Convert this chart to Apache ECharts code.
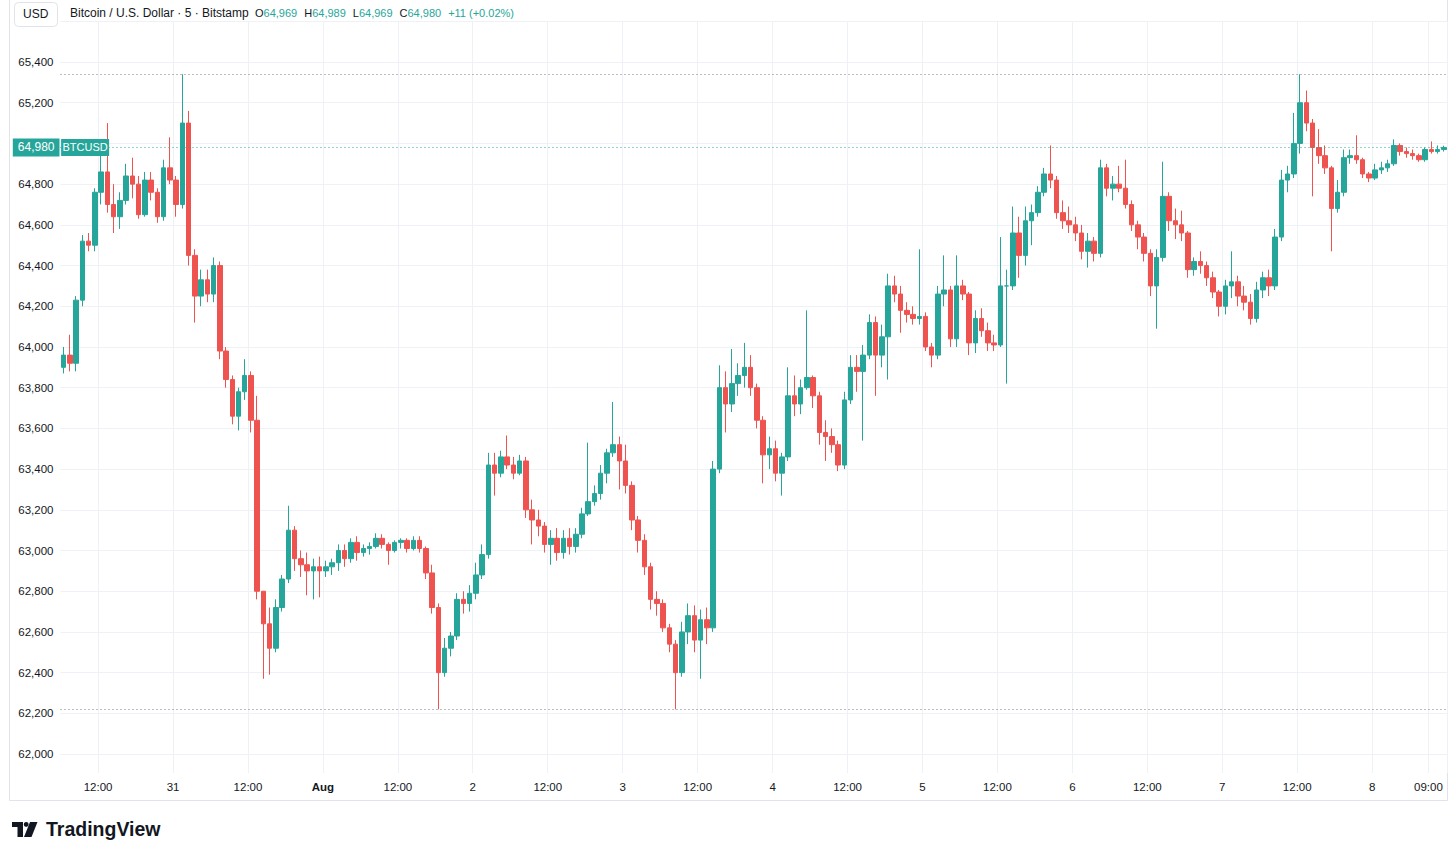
<!DOCTYPE html>
<html>
<head>
<meta charset="utf-8">
<title>BTCUSD · Bitstamp</title>
<script src="https://cdn.jsdelivr.net/npm/echarts@6/dist/echarts.min.js"></script>
<style>
  html, body { margin: 0; padding: 0; background: #fff; }
  #chart { width: 1456px; height: 859px; }
</style>
</head>
<body>
<div id="chart"></div>
<script>
// hourly candles, Jul 30 06:00 -> Aug 8 11:00 (one row per day)
const opens = [
  63900,63960,63920,64230,64520,64500,64760,64860,64700,64640,64720,64840,64800,64650,64820,64760,64640,64880,
  64820,64700,65100,64450,64250,64330,64260,64400,63980,63840,63660,63780,63860,63640,62800,62640,62520,62720,62860,63100,62960,62930,62900,62920,
  62900,62920,62940,63000,62960,63040,62990,63010,63020,63060,63030,63000,63040,63050,63010,63050,63010,62890,62720,62400,62520,62580,62760,62740,
  62790,62880,62980,63420,63380,63460,63420,63380,63440,63200,63150,63120,63030,63060,62990,63060,63020,63080,63180,63240,63280,63380,63480,63520,
  63440,63320,63150,63050,62920,62760,62740,62620,62540,62400,62600,62680,62560,62660,62620,63400,63800,63720,63820,63860,63900,63800,63640,63470,
  63500,63380,63460,63760,63720,63800,63850,63760,63580,63560,63520,63420,63740,63900,63880,63960,64120,63960,64050,64300,64260,64180,64160,64140,
  64150,64000,63960,64260,64280,64040,64300,64260,64020,64140,64080,64020,64010,64300,64300,64560,64450,64620,64660,64760,64850,64820,64660,64620,
  64600,64560,64470,64520,64460,64880,64780,64800,64780,64700,64600,64540,64460,64300,64440,64740,64620,64600,64560,64380,64420,64400,64340,64270,
  64200,64300,64320,64250,64220,64140,64280,64340,64300,64540,64820,64850,65000,65200,65100,64980,64940,64880,64680,64760,64930,64940,64920,64850,
  64830,64870,64880,64900,64990,64960,64950,64940,64920,64970,64960,64970
];
const highs = [
  64000,64060,64250,64550,64560,64780,64940,65100,64800,64760,64900,64930,64840,64860,64860,64780,64920,65030,
  64840,65340,65160,64480,64380,64380,64440,64420,64000,63860,63800,63940,63880,63760,62800,62720,62760,62880,63220,63120,63000,62990,62960,62970,
  62950,62960,63030,63030,63060,63070,63030,63040,63085,63080,63040,63050,63060,63060,63070,63070,63020,62930,62740,62570,62600,62790,62800,62830,
  62940,63030,63480,63480,63490,63565,63460,63470,63460,63250,63200,63140,63100,63110,63100,63110,63110,63210,63530,63320,63420,63500,63730,63560,
  63520,63340,63170,63080,62940,62800,62760,62640,62560,62650,62740,62730,62710,62720,63440,63910,63880,63990,63920,64020,63960,63820,63660,63560,
  63540,63480,63900,63860,63840,64180,63860,63780,63640,63600,63540,63780,63960,63960,64010,64160,64150,64110,64360,64350,64300,64220,64200,64480,
  64170,64020,64300,64450,64300,64450,64330,64270,64180,64190,64120,64060,64540,64380,64690,64640,64690,64700,64790,64880,64990,64840,64720,64690,
  64640,64600,64560,64540,64920,64900,64840,64890,64920,64720,64620,64560,64480,64480,64910,64760,64680,64670,64570,64440,64470,64420,64370,64280,
  64330,64470,64350,64300,64260,64320,64370,64380,64580,64870,64890,65150,65340,65260,65120,65070,64990,64890,64820,64970,64970,65040,64930,64860,
  64900,64910,64920,65020,65000,64980,64970,64950,64980,65010,64990,64989
];
const lows = [
  63870,63880,63880,64200,64470,64470,64700,64660,64560,64580,64700,64730,64630,64640,64720,64610,64620,64800,
  64640,64680,64400,64120,64200,64220,64220,63940,63800,63620,63590,63740,63580,62760,62370,62390,62500,62700,62840,62900,62870,62780,62760,62770,
  62870,62880,62900,62920,62940,62950,62970,62980,63010,63010,62930,62990,63010,62990,63000,62990,62860,62690,62220,62380,62480,62560,62690,62700,
  62760,62860,62960,63270,63360,63400,63350,63370,63160,63030,63070,62990,62930,62950,62960,62980,62990,63060,63170,63220,63250,63330,63460,63300,
  63280,63100,62990,62880,62710,62680,62600,62500,62220,62380,62540,62500,62370,62540,62600,63380,63580,63680,63760,63800,63760,63600,63330,63400,
  63340,63270,63440,63660,63670,63790,63700,63520,63440,63480,63390,63400,63720,63780,63540,63940,63760,63900,63840,64220,64070,64120,64110,64110,
  63980,63900,63940,64200,64000,64000,64230,63960,63970,64050,63980,63980,64000,63820,64280,64340,64400,64500,64640,64740,64780,64630,64580,64560,
  64520,64430,64390,64420,64440,64740,64720,64760,64680,64570,64480,64420,64250,64090,64420,64570,64530,64520,64340,64350,64360,64300,64240,64150,
  64160,64240,64200,64180,64110,64120,64240,64250,64280,64520,64760,64830,64950,65060,64740,64900,64850,64470,64660,64740,64900,64900,64830,64810,
  64820,64850,64860,64890,64940,64930,64920,64910,64910,64950,64950,64960
];
const closes = [
  63960,63920,64230,64520,64500,64760,64860,64700,64640,64720,64840,64800,64650,64820,64760,64640,64880,64820,
  64700,65100,64450,64250,64330,64260,64400,63980,63840,63660,63780,63860,63640,62800,62640,62520,62720,62860,63100,62960,62930,62900,62920,62900,
  62920,62940,63000,62960,63040,62990,63010,63020,63060,63030,63000,63040,63050,63010,63050,63010,62890,62720,62400,62520,62580,62760,62740,62790,
  62880,62980,63420,63380,63460,63420,63380,63440,63200,63150,63120,63030,63060,62990,63060,63020,63080,63180,63240,63280,63380,63480,63520,63440,
  63320,63150,63050,62920,62760,62740,62620,62540,62400,62600,62680,62560,62660,62620,63400,63800,63720,63820,63860,63900,63800,63640,63470,63500,
  63380,63460,63760,63720,63800,63850,63760,63580,63560,63520,63420,63740,63900,63880,63960,64120,63960,64050,64300,64260,64180,64160,64140,64150,
  64000,63960,64260,64280,64040,64300,64260,64020,64140,64080,64020,64010,64300,64300,64560,64450,64620,64660,64760,64850,64820,64660,64620,64600,
  64560,64470,64520,64460,64880,64780,64800,64780,64700,64600,64540,64460,64300,64440,64740,64620,64600,64560,64380,64420,64400,64340,64270,64200,
  64300,64320,64250,64220,64140,64280,64340,64300,64540,64820,64850,65000,65200,65100,64980,64940,64880,64680,64760,64930,64940,64920,64850,64830,
  64870,64880,64900,64990,64960,64950,64940,64920,64970,64960,64970,64980
];

// header quote (last 5 min bar)
const headerOHLC = ['64,969', '64,989', '64,969', '64,980'];
const headerChange = '+11 (+0.02%)';

const days = ['07-30', '07-31', '08-01', '08-02', '08-03', '08-04', '08-05', '08-06', '08-07', '08-08'];
const firstHour = 6;

const tickLabels = [
  ['07-30 12:00', '12:00'], ['07-31 00:00', '31'], ['07-31 12:00', '12:00'],
  ['08-01 00:00', 'Aug'], ['08-01 12:00', '12:00'], ['08-02 00:00', '2'], ['08-02 12:00', '12:00'],
  ['08-03 00:00', '3'], ['08-03 12:00', '12:00'], ['08-04 00:00', '4'], ['08-04 12:00', '12:00'],
  ['08-05 00:00', '5'], ['08-05 12:00', '12:00'], ['08-06 00:00', '6'], ['08-06 12:00', '12:00'],
  ['08-07 00:00', '7'], ['08-07 12:00', '12:00'], ['08-08 00:00', '8'], ['08-08 09:00', '09:00']
];
const gridPrices = [62000, 62200, 62400, 62600, 62800, 63000, 63200, 63400, 63600, 63800,
  64000, 64200, 64400, 64600, 64800, 65000, 65200, 65400, 65600];
const labelPrices = gridPrices.slice(0, -1);

const UP = '#26a69a';
const DOWN = '#ef5350';
const TEXT = '#131722';
const GRID = '#eef1f6';
const FONT = 'Liberation Sans, Arial, sans-serif';

const times = [];
for (let i = 0; i < opens.length; i++) {
  const h = firstHour + i;
  const hh = String(h % 24).padStart(2, '0');
  times.push(days[Math.floor(h / 24)] + ' ' + hh + ':00');
}
const candles = opens.map((o, i) => [o, closes[i], lows[i], highs[i]]);
const tickMap = new Map(tickLabels);

const rangeHigh = Math.max(...highs);
const rangeLow = Math.min(...lows);
const lastPrice = closes[closes.length - 1];

const chart = echarts.init(document.getElementById('chart'), null, { renderer: 'svg' });

chart.setOption({
  animation: false,
  backgroundColor: '#fff',
  textStyle: { fontFamily: FONT },
  title: [
    {
      text: 'USD', left: 14, top: 2, padding: [6, 9, 7, 9],
      borderColor: '#e0e3eb', borderWidth: 1, borderRadius: 4,
      textStyle: { fontSize: 12, fontWeight: 'normal', color: TEXT, fontFamily: FONT }
    },
    {
      text: 'Bitcoin / U.S. Dollar · 5 · Bitstamp', left: 70, top: 7, padding: 0,
      textStyle: { fontSize: 12, fontWeight: 'normal', color: TEXT, fontFamily: FONT }
    },
    {
      text: '{k|O}{v|' + headerOHLC[0] + '}{s| }{k|H}{v|' + headerOHLC[1] + '}{s| }{k|L}{v|' +
        headerOHLC[2] + '}{s| }{k|C}{v|' + headerOHLC[3] + '}{s| }{v|' + headerChange + '}',
      left: 255, top: 7, padding: 0,
      textStyle: {
        fontWeight: 'normal', fontSize: 11,
        rich: {
          k: { fontSize: 11, fontWeight: 'normal', color: TEXT, fontFamily: FONT },
          v: { fontSize: 11, fontWeight: 'normal', color: UP, fontFamily: FONT },
          s: { fontSize: 11, width: 7 }
        }
      }
    },
    {
      text: 'TradingView', left: 46, top: 819, padding: 0,
      textStyle: { fontSize: 19.5, fontWeight: 'bold', color: TEXT, fontFamily: FONT }
    }
  ],
  graphic: [
    {
      type: 'rect', silent: true, z: -1,
      shape: { x: 9.5, y: -0.5, width: 1438, height: 801 },
      style: { fill: 'none', stroke: '#e0e3eb', lineWidth: 1 }
    },
    {
      type: 'group', silent: true,
      children: [
        { type: 'polygon', shape: { points: [[12, 822], [23, 822], [23, 837], [17.5, 837], [17.5, 827], [12, 827]] }, style: { fill: TEXT } },
        { type: 'circle', shape: { cx: 26.2, cy: 824.4, r: 2.4 }, style: { fill: TEXT } },
        { type: 'polygon', shape: { points: [[30, 822], [37.5, 822], [31.5, 837], [24, 837]] }, style: { fill: TEXT } }
      ]
    }
  ],
  grid: { left: 60.5, right: 9, top: 21.3, bottom: 86 },
  xAxis: {
    type: 'category',
    data: times,
    boundaryGap: true,
    axisLine: { show: false },
    axisTick: { show: false },
    axisLabel: {
      interval: (i, v) => tickMap.has(v),
      formatter: v => tickMap.get(v) === 'Aug' ? '{b|Aug}' : tickMap.get(v),
      fontSize: 11.5, color: TEXT, margin: 8, padding: [0, 6, 0, 0],
      rich: { b: { fontSize: 11.5, fontWeight: 'bold', color: TEXT } }
    },
    splitLine: {
      show: true,
      interval: (i, v) => tickMap.has(v),
      lineStyle: { color: GRID, width: 1 }
    }
  },
  yAxis: {
    type: 'value',
    position: 'left',
    min: 61907,
    max: 65600,
    axisLine: { show: false },
    axisTick: { show: false, customValues: gridPrices },
    axisLabel: {
      customValues: labelPrices,
      formatter: v => v.toLocaleString('en-US'),
      fontSize: 11.5, color: TEXT, margin: 7
    },
    splitLine: { show: true, lineStyle: { color: GRID, width: 1 } }
  },
  series: [
    {
      type: 'candlestick',
      name: 'BTCUSD',
      data: candles,
      barWidth: 5,
      itemStyle: {
        color: UP, color0: DOWN,
        borderColor: UP, borderColor0: DOWN,
        borderWidth: 1
      },
      markLine: {
        silent: true,
        symbol: ['none', 'none'],
        data: [
          { yAxis: rangeHigh, lineStyle: { color: '#787b86', type: [1, 3], width: 1 }, label: { show: false } },
          { yAxis: rangeLow, lineStyle: { color: '#787b86', type: [1, 3], width: 1 }, label: { show: false } },
          {
            yAxis: lastPrice,
            lineStyle: { color: UP, type: [1, 3], width: 1 },
            label: {
              show: true, position: 'start', distance: 1,
              formatter: lastPrice.toLocaleString('en-US'),
              color: '#fff', backgroundColor: UP, fontSize: 12,
              padding: [3, 5, 2, 5], lineHeight: 13, fontFamily: FONT
            }
          }
        ]
      },
      markPoint: {
        silent: true,
        data: [
          {
            coord: [times[0], lastPrice],
            symbol: 'rect', symbolSize: [48, 17], symbolOffset: [21.5, 0],
            itemStyle: { color: UP },
            label: { show: true, formatter: 'BTCUSD', color: '#fff', fontSize: 11, fontFamily: FONT }
          }
        ]
      }
    }
  ]
});
</script>
</body>
</html>
